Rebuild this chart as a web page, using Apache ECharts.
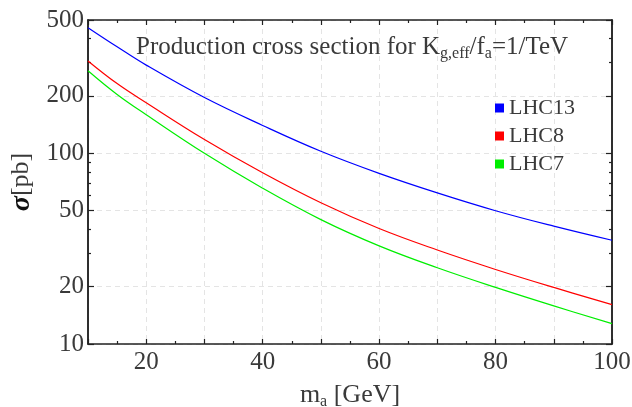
<!DOCTYPE html>
<html>
<head>
<meta charset="utf-8">
<script src="https://cdn.jsdelivr.net/npm/echarts@6/dist/echarts.min.js"></script>
<style>
html,body{margin:0;padding:0;background:#fff;}
#chart{width:632px;height:407px;}
</style>
</head>
<body>
<div id="chart"></div>
<script>
// Data
const masses = [10, 15, 20, 30, 40, 50, 60, 70, 80, 90, 100];
const lhc13 = [456, 362, 290, 196, 140, 102.5, 78.5, 62, 50, 41.5, 35];
const lhc8  = [305, 232, 184, 118, 79, 55, 40.3, 31.1, 24.6, 19.8, 16.1];
const lhc7  = [271, 203.5, 159.3, 100, 65.6, 44.9, 32.7, 25.1, 19.8, 15.84, 12.8];
const seriesNames = ['LHC13', 'LHC8', 'LHC7'];
const seriesColors = ['#0000ff', '#ff0000', '#00ee00'];
const yMajorTicks = [10, 20, 50, 100, 200, 500];
const yMinorTicks = [30, 40, 60, 70, 80, 90, 300, 400];
const xLabelTicks = [20, 40, 60, 80, 100];

const FONT = 'Liberation Serif';
const TXT = '#3a3a3a';
const AX = '#222';

const chart = echarts.init(document.getElementById('chart'), null, {renderer: 'canvas'});

function pairs(ys) { return masses.map((m, i) => [m, ys[i]]); }

const axisLine = {show: true, lineStyle: {color: AX, width: 1.5}};

function yAxisCfg(pos, ticks, len, labels, split) {
  return {
    type: 'log', logBase: 10, min: 10, max: 500, position: pos,
    axisLine: axisLine,
    axisTick: {show: true, inside: true, length: len, customValues: ticks, lineStyle: {color: AX, width: 1.2}},
    axisLabel: labels ? {show: true, customValues: yMajorTicks, fontFamily: FONT, fontSize: 25, color: TXT, margin: 4} : {show: false},
    splitLine: split ? {show: true, lineStyle: {color: '#e4e4e4', type: [5, 4], width: 1}} : {show: false},
    minorTick: {show: false}, minorSplitLine: {show: false}
  };
}

const option = {
  backgroundColor: '#ffffff',
  animation: false,
  title: {
    text: 'Production cross section for K{sub|g,eff}/f{sub|a}=1/TeV',
    left: 131, top: 27,
    textStyle: {
      fontFamily: FONT, fontSize: 25, fontWeight: 'normal', color: TXT, lineHeight: 30,
      rich: {sub: {fontFamily: FONT, fontSize: 16, color: TXT, verticalAlign: 'bottom', lineHeight: 30}}
    }
  },
  legend: {
    data: seriesNames, orient: 'vertical', left: 490, top: 92,
    icon: 'rect', itemWidth: 9, itemHeight: 9, itemGap: 6,
    textStyle: {fontFamily: FONT, fontSize: 22, color: TXT, lineHeight: 22}
  },
  grid: {left: 88, right: 20, top: 20, bottom: 63, containLabel: false, outerBoundsMode: 'none'},
  xAxis: [
    {
      type: 'value', min: 10, max: 100, interval: 10, position: 'bottom',
      axisLine: axisLine,
      axisTick: {show: true, inside: true, length: 5, lineStyle: {color: AX, width: 1.2}},
      minorTick: {show: true, splitNumber: 2, length: 3, lineStyle: {color: AX, width: 1.2}},
      axisLabel: {fontFamily: FONT, fontSize: 25, color: TXT, margin: 6,
        formatter: v => xLabelTicks.indexOf(v) >= 0 ? String(v) : ''},
      splitLine: {show: true, lineStyle: {color: '#e4e4e4', type: [5, 4], width: 1}},
      name: 'm{sub|a} [GeV]', nameLocation: 'middle', nameGap: 32,
      nameTextStyle: {fontFamily: FONT, fontSize: 26, color: TXT, lineHeight: 30,
        rich: {sub: {fontFamily: FONT, fontSize: 16, color: TXT, verticalAlign: 'bottom', lineHeight: 30}}}
    },
    {
      type: 'value', min: 10, max: 100, interval: 10, position: 'top',
      axisLine: axisLine,
      axisTick: {show: true, inside: true, length: 5, lineStyle: {color: AX, width: 1.2}},
      minorTick: {show: true, splitNumber: 2, length: 3, lineStyle: {color: AX, width: 1.2}},
      axisLabel: {show: false}, splitLine: {show: false}
    }
  ],
  yAxis: [
    Object.assign(yAxisCfg('left', yMajorTicks, 6, true, true), {
      name: '{s|σ}{n|[pb]}', nameLocation: 'middle', nameGap: 52, nameRotate: 90,
      nameTextStyle: {fontFamily: FONT, fontSize: 26, color: TXT,
        rich: {
          s: {fontFamily: FONT, fontSize: 28, fontWeight: 'bold', fontStyle: 'italic', color: '#111'},
          n: {fontFamily: FONT, fontSize: 26, color: TXT}
        }}
    }),
    yAxisCfg('left', yMinorTicks, 3, false, false),
    yAxisCfg('right', yMajorTicks, 6, false, false),
    yAxisCfg('right', yMinorTicks, 3, false, false)
  ],
  series: seriesNames.map((nm, i) => ({
    name: nm, type: 'line', data: pairs([lhc13, lhc8, lhc7][i]),
    xAxisIndex: 0, yAxisIndex: 0, smooth: 0.4, showSymbol: false,
    lineStyle: {color: seriesColors[i], width: 1.2}, itemStyle: {color: seriesColors[i]}
  }))
};
chart.setOption(option);
</script>
</body>
</html>
